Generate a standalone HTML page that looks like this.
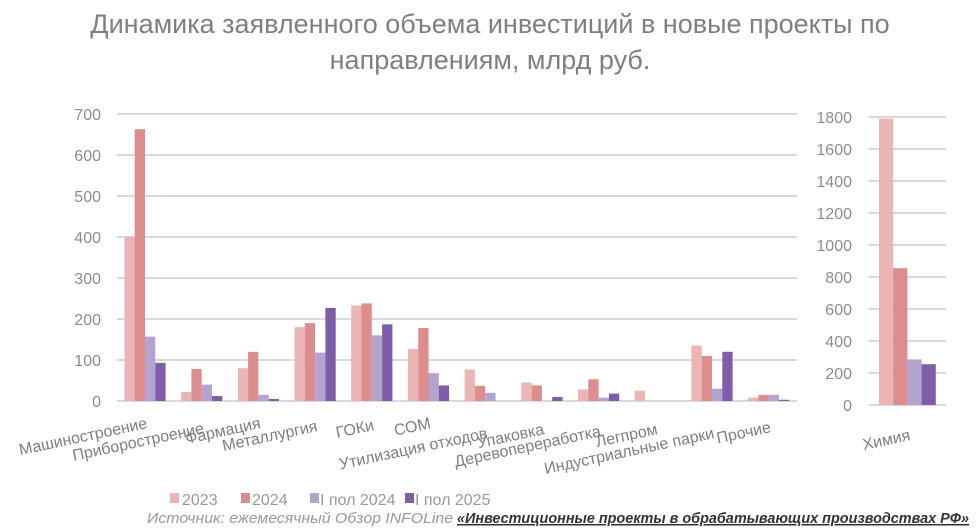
<!DOCTYPE html>
<html><head><meta charset="utf-8"><style>
body{margin:0;background:#fff;width:980px;height:530px;overflow:hidden}
svg{display:block;font-family:"Liberation Sans",sans-serif}
</style></head><body>
<svg width="980" height="530" xmlns="http://www.w3.org/2000/svg">
<text x="490" y="33" text-anchor="middle" font-size="27" fill="#7f7f7f">Динамика заявленного объема инвестиций в новые проекты по</text>
<text x="490" y="69" text-anchor="middle" font-size="27" fill="#7f7f7f">направлениям, млрд руб.</text>
<g stroke="#d9d9d9" stroke-width="2">
<line x1="117" x2="797" y1="114" y2="114"/><line x1="117" x2="797" y1="155" y2="155"/><line x1="117" x2="797" y1="196" y2="196"/><line x1="117" x2="797" y1="237" y2="237"/><line x1="117" x2="797" y1="278" y2="278"/><line x1="117" x2="797" y1="319" y2="319"/><line x1="117" x2="797" y1="360" y2="360"/><line x1="117" x2="797" y1="401" y2="401"/>
<line x1="869" x2="946" y1="117" y2="117"/><line x1="869" x2="946" y1="149" y2="149"/><line x1="869" x2="946" y1="181" y2="181"/><line x1="869" x2="946" y1="213" y2="213"/><line x1="869" x2="946" y1="245" y2="245"/><line x1="869" x2="946" y1="277" y2="277"/><line x1="869" x2="946" y1="309" y2="309"/><line x1="869" x2="946" y1="341" y2="341"/><line x1="869" x2="946" y1="373" y2="373"/><line x1="869" x2="946" y1="405" y2="405"/>
</g>
<g font-size="16" fill="#8c8c8c" text-anchor="end">
<text x="101" y="120">700</text><text x="101" y="161">600</text><text x="101" y="202">500</text><text x="101" y="243">400</text><text x="101" y="284">300</text><text x="101" y="325">200</text><text x="101" y="366">100</text><text x="101" y="407">0</text>
<text x="852" y="123">1800</text><text x="852" y="155">1600</text><text x="852" y="187">1400</text><text x="852" y="219">1200</text><text x="852" y="251">1000</text><text x="852" y="283">800</text><text x="852" y="315">600</text><text x="852" y="347">400</text><text x="852" y="379">200</text><text x="852" y="411">0</text>
</g>
<g id="bars"></g>
<g font-size="16" fill="#7f7f7f" text-anchor="end" id="labels"></g>
<text transform="translate(911,440) rotate(-12)" text-anchor="end" font-size="16" fill="#7f7f7f">Химия</text>
<g font-size="16" fill="#999">
<rect x="170" y="493" width="9" height="10" fill="#ebb5b5"/><text x="182" y="505">2023</text>
<rect x="241" y="493" width="9" height="10" fill="#dc8d8d"/><text x="252" y="505">2024</text>
<rect x="310" y="493" width="9" height="10" fill="#b3a3cf"/><text x="320" y="505">I пол 2024</text>
<rect x="405" y="493" width="9" height="10" fill="#7e5ea8"/><text x="415" y="505">I пол 2025</text>
</g>
<text x="147" y="523" font-size="15" font-style="italic" fill="#999" textLength="306" lengthAdjust="spacingAndGlyphs">Источник: ежемесячный Обзор INFOLine</text>
<text x="457" y="523" font-size="15" font-style="italic" font-weight="bold" fill="#333" text-decoration="underline" textLength="512" lengthAdjust="spacingAndGlyphs">«Инвестиционные проекты в обрабатывающих производствах РФ»</text>
</svg>
<script>
var cols=["#ebb5b5","#dc8d8d","#b3a3cf","#7e5ea8"];
var d=[["Машиностроение",400,663,157,93,428],["Приборостроение",22,78,40,12,433],["Фармация",80,120,15,5,428],["Металлургия",180,190,118,227,431],["ГОКи",233,238,160,187,430],["СОМ",127,178,68,38,428],["Утилизация отходов",77,37,20,0,438],["Упаковка",45,38,0,10,434],["Деревопереработка",28,53,8,18,436],["Легпром",25,0,0,0,434],["Индустриальные парки",135,110,30,120,438],["Прочие",8,15,15,3,432]];
var ns="http://www.w3.org/2000/svg",b=document.getElementById("bars"),l=document.getElementById("labels");
function r(x,y,w,h,c){var e=document.createElementNS(ns,"rect");e.setAttribute("x",x);e.setAttribute("y",y);e.setAttribute("width",w);e.setAttribute("height",h);e.setAttribute("fill",c);b.appendChild(e);}
d.forEach(function(g,i){var c=145+56.7*i;for(var k=0;k<4;k++){var h=g[k+1]*0.41;r(c-20.6+k*10.3,401-h,10.3,h,cols[k]);}
var t=document.createElementNS(ns,"text");t.setAttribute("transform","translate("+(c+3)+","+g[5]+") rotate(-12)");t.textContent=g[0];l.appendChild(t);});
[1790,855,285,255].forEach(function(v,k){var h=v*0.16;r(879+k*14.2,405-h,14.2,h,cols[k]);});
</script>
</body></html>
